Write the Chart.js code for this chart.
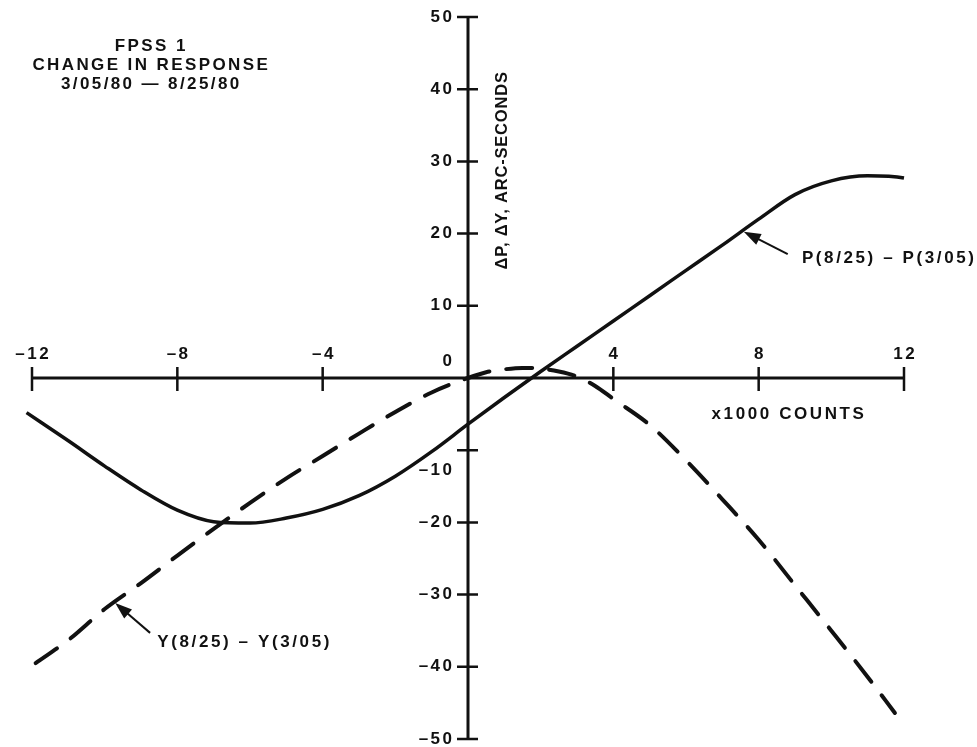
<!DOCTYPE html>
<html>
<head>
<meta charset="utf-8">
<script src="https://cdn.jsdelivr.net/npm/chart.js@4.4.1/dist/chart.umd.min.js"></script>
<style>
  html, body { margin: 0; padding: 0; background: #fff; }
  #caja { width: 977px; height: 747px; }
</style>
</head>
<body>
<div id="caja"><canvas id="grafica"></canvas></div>
<script>
// P(8/25) - P(3/05), solid curve
const countsP = [-12.15, -11, -10, -9, -8, -7, -6, -5, -4, -3, -2, -1, 0, 1, 2, 3, 4, 5, 6, 7, 8, 9, 10, 11, 12, 12.35];
const deltaP  = [-4.8, -8.7, -12.2, -15.5, -18.3, -19.9, -20.1, -19.4, -18.2, -16.3, -13.6, -10.2, -6.4, -2.7, 0.9, 4.4, 7.9, 11.4, 14.9, 18.4, 22.0, 25.4, 27.3, 28.0, 27.7, 27.0];

// Y(8/25) - Y(3/05), dashed curve
const countsY = [-11.9, -11, -10, -9, -8, -7, -6, -5, -4, -3, -2, -1, 0, 0.5, 1, 1.5, 2, 2.5, 3, 3.5, 4, 5, 6, 7, 8, 9, 10, 11, 11.75];
const deltaY  = [-39.5, -36.3, -32.0, -28.4, -24.6, -20.9, -17.3, -13.9, -10.8, -7.7, -4.7, -2.0, 0, 0.8, 1.2, 1.4, 1.3, 0.9, 0.2, -1.1, -2.9, -6.5, -11.4, -16.8, -22.4, -28.7, -35.0, -41.4, -46.4];

const xTicks = [-12, -8, -4, 0, 4, 8, 12];
const yTicks = [50, 40, 30, 20, 10, 0, -10, -20, -30, -40, -50];

const titulo = ["FPSS 1", "CHANGE IN RESPONSE", "3/05/80 \u2014 8/25/80"];
const tituloEjeY = "\u0394P, \u0394Y, ARC-SECONDS";
const tituloEjeX = "x1000 COUNTS";
const nombreP = "P(8/25) \u2013 P(3/05)";
const nombreY = "Y(8/25) \u2013 Y(3/05)";

const TINTA = "#111";
const FUENTE = "'Liberation Sans', Arial, sans-serif";

function puntos(xs, ys) {
  return xs.map((x, i) => ({ x: x, y: ys[i] }));
}

function etiqueta(v) {
  return v < 0 ? "\u2013" + Math.abs(v) : String(v);
}

// text with letter spacing, aligned by hand so the trailing space is ignored
function texto(ctx, str, x, y, size, spacing, align) {
  ctx.font = "bold " + size + "px " + FUENTE;
  ctx.letterSpacing = spacing + "px";
  ctx.textAlign = "left";
  ctx.textBaseline = "middle";
  const w = ctx.measureText(str).width - spacing;
  let left = x;
  if (align === "center") left = x - w / 2;
  if (align === "right") left = x - w;
  ctx.fillText(str, left, y);
}

function flecha(ctx, x1, y1, x2, y2) {
  const ang = Math.atan2(y2 - y1, x2 - x1);
  const largo = 17, ancho = 6;
  ctx.lineWidth = 2;
  ctx.beginPath();
  ctx.moveTo(x1, y1);
  ctx.lineTo(x2 - Math.cos(ang) * largo * 0.8, y2 - Math.sin(ang) * largo * 0.8);
  ctx.stroke();
  ctx.beginPath();
  ctx.moveTo(x2, y2);
  ctx.lineTo(x2 - Math.cos(ang) * largo - Math.sin(ang) * ancho, y2 - Math.sin(ang) * largo + Math.cos(ang) * ancho);
  ctx.lineTo(x2 - Math.cos(ang) * largo + Math.sin(ang) * ancho, y2 - Math.sin(ang) * largo - Math.cos(ang) * ancho);
  ctx.closePath();
  ctx.fill();
}

const ejes = {
  id: "ejes",
  beforeDatasetsDraw(chart) {
    const { ctx, scales: { x, y } } = chart;
    const x0 = x.getPixelForValue(0), y0 = y.getPixelForValue(0);
    ctx.save();
    ctx.strokeStyle = TINTA;
    ctx.lineCap = "butt";
    ctx.lineWidth = 3;
    ctx.beginPath();
    ctx.moveTo(x.getPixelForValue(xTicks[0]), y0);
    ctx.lineTo(x.getPixelForValue(xTicks[xTicks.length - 1]), y0);
    ctx.moveTo(x0, y.getPixelForValue(yTicks[0]));
    ctx.lineTo(x0, y.getPixelForValue(yTicks[yTicks.length - 1]));
    ctx.stroke();

    ctx.lineWidth = 2.5;
    ctx.beginPath();
    xTicks.forEach(v => {
      if (v === 0) return;
      const px = x.getPixelForValue(v);
      ctx.moveTo(px, y0 - 11);
      ctx.lineTo(px, y0 + 13);
    });
    yTicks.forEach(v => {
      if (v === 0) return;
      const py = y.getPixelForValue(v);
      ctx.moveTo(x0 - 11, py);
      ctx.lineTo(x0 + 10, py);
    });
    ctx.stroke();
    ctx.restore();
  },
};

const rotulos = {
  id: "rotulos",
  afterDatasetsDraw(chart) {
    const { ctx, scales: { x, y } } = chart;
    const x0 = x.getPixelForValue(0), y0 = y.getPixelForValue(0);
    ctx.save();
    ctx.fillStyle = TINTA;
    ctx.strokeStyle = TINTA;

    // tick labels
    xTicks.forEach(v => {
      if (v === 0) return;
      texto(ctx, etiqueta(v), x.getPixelForValue(v), y0 - 24, 17, 2.5, "center");
    });
    yTicks.forEach(v => {
      let py = y.getPixelForValue(v);
      if (v === 0) py -= 17;
      if (v === -10) py += 20;
      texto(ctx, etiqueta(v), x0 - 16, py, 17, 2.5, "right");
    });

    // title block
    const tx = x.getPixelForValue(-8.75), ty = y.getPixelForValue(46);
    titulo.forEach((linea, i) => texto(ctx, linea, tx, ty + i * 19, 17, 2.4, "center"));

    // axis titles
    texto(ctx, tituloEjeX, x.getPixelForValue(8.8), y.getPixelForValue(-5.05), 17, 2.6, "center");
    ctx.save();
    ctx.translate(x.getPixelForValue(0.96), y.getPixelForValue(28.7));
    ctx.rotate(-Math.PI / 2);
    texto(ctx, tituloEjeY, 0, 0, 16.5, 0.8, "center");
    ctx.restore();

    // curve labels with arrows
    texto(ctx, nombreP, x.getPixelForValue(9.19), y.getPixelForValue(16.6), 17, 2.6, "left");
    flecha(ctx, x.getPixelForValue(8.8), y.getPixelForValue(17.17), x.getPixelForValue(7.59), y.getPixelForValue(20.26));
    texto(ctx, nombreY, x.getPixelForValue(-8.55), y.getPixelForValue(-36.6), 17, 2.6, "left");
    flecha(ctx, x.getPixelForValue(-8.75), y.getPixelForValue(-35.3), x.getPixelForValue(-9.71), y.getPixelForValue(-31.16));

    ctx.restore();
  },
};

window.onload = () => {
  new Chart(document.getElementById("grafica"), {
    type: "line",
    data: {
      datasets: [
        {
          label: nombreP,
          data: puntos(countsP, deltaP),
          borderColor: TINTA,
          borderWidth: 3.5,
          pointRadius: 0,
          cubicInterpolationMode: "monotone",
          fill: false,
          clip: false,
        },
        {
          label: nombreY,
          data: puntos(countsY, deltaY),
          borderColor: TINTA,
          borderWidth: 4,
          borderDash: [26, 17],
          borderCapStyle: "round",
          pointRadius: 0,
          cubicInterpolationMode: "monotone",
          fill: false,
          clip: false,
        },
      ],
    },
    options: {
      responsive: true,
      maintainAspectRatio: false,
      animation: false,
      layout: { padding: { left: 32, right: 73, top: 17, bottom: 8 } },
      scales: {
        x: { type: "linear", min: -12, max: 12, display: false },
        y: { type: "linear", min: -50, max: 50, display: false },
      },
      plugins: { legend: { display: false }, tooltip: { enabled: false } },
    },
    plugins: [ejes, rotulos],
  });
};
</script>
</body>
</html>
